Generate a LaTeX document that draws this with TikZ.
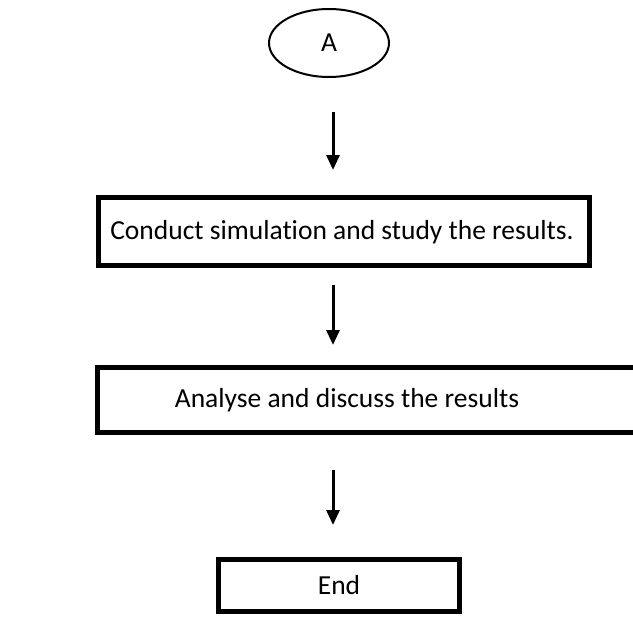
\documentclass[tikz,border=0pt]{standalone}
\usepackage{fontspec}
\setmainfont[Ligatures=CommonOff]{Carlito}
\usetikzlibrary{arrows.meta,shapes.geometric,calc}
\begin{document}
\begin{tikzpicture}[x=1pt,y=-1pt,
  every node/.style={font=\fontsize{27.5}{30}\selectfont},
  oval/.style={draw, ellipse, line width=2pt, minimum width=120pt, minimum height=68pt, inner sep=0pt},
  stepbox/.style={draw, line width=5pt, inner sep=0pt},
  arr/.style={line width=3pt, -{Triangle[width=13pt,length=15pt]}}]
\useasboundingbox (0,0) rectangle (633,621);
\clip (0,0) rectangle (633,621);

% start connector
\node[oval] (A) at (329,43) {A};

% process boxes
\node[stepbox, minimum width=491pt, minimum height=68pt] (b1) at (344,231.5) {};
\node (t1) at (342,232) {Conduct simulation and study the results.};

\node[stepbox, minimum width=560pt, minimum height=65pt] (b2) at (377.5,400) {};
\node (t2) at (347,400) {Analyse and discuss the results};

\node[stepbox, minimum width=241pt, minimum height=52pt] (b3) at (339,585.5) {};
\node (t3) at (339,585) {End};

% connectors
\coordinate (c1) at ($(A.south)+(4,34)$);
\coordinate (c2) at ($(b1.north)+(-11,-25)$);
\coordinate (c3) at ($(b1.south)+(-11,17)$);
\coordinate (c4) at ($(b2.north)+(-44.5,-20)$);
\coordinate (c5) at ($(b2.south)+(-44.5,35)$);
\coordinate (c6) at ($(b3.north)+(-6,-32)$);
\draw[arr] (c1) -- (c2);
\draw[arr] (c3) -- (c4);
\draw[arr] (c5) -- (c6);
\end{tikzpicture}
\end{document}
